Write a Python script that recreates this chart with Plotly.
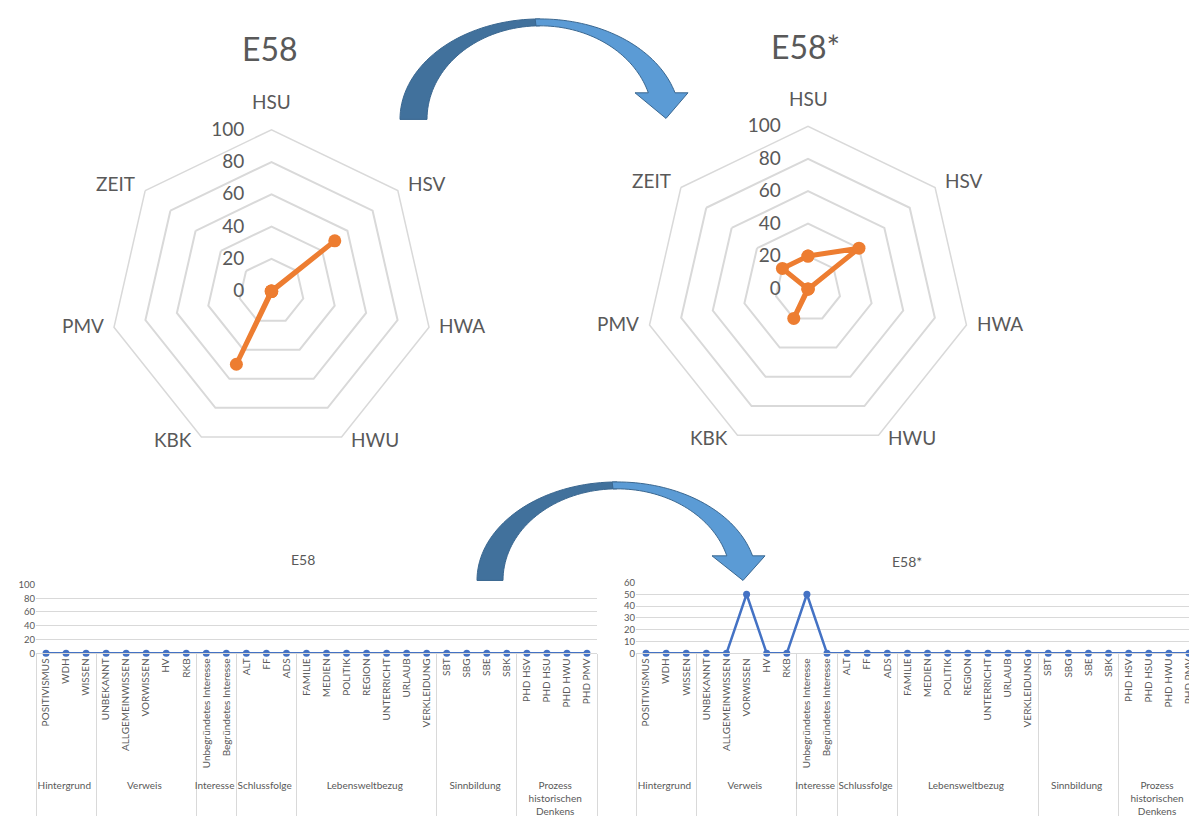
import math

import plotly.graph_objects as go

# the page body keeps its default 8px margin, so the figure starts at (8, 8)
OFF = 8
W, H = 1197 - OFF, 816 - OFF

# radar data
radar_axes = ["HSU", "HSV", "HWA", "HWU", "KBK", "PMV", "ZEIT"]
radar_e58 = [0, 50, 0, 0, 50, 0, 0]
radar_e58_star = [20, 40, 0, 0, 20, 0, 20]
radar_ticks = [0, 20, 40, 60, 80, 100]

# line chart data
group_names = [
    "Hintergrund",
    "Verweis",
    "Interesse",
    "Schlussfolge",
    "Lebensweltbezug",
    "Sinnbildung",
    "Prozess<br>historischen<br>Denkens",
]
group_codes = [
    ["POSITIVISMUS", "WDH", "WISSEN"],
    ["UNBEKANNT", "ALLGEMEINWISSEN", "VORWISSEN", "HV", "RKB"],
    ["Unbegründetes Interesse", "Begründetes Interesse"],
    ["ALT", "FF", "ADS"],
    ["FAMILIE", "MEDIEN", "POLITIK", "REGION", "UNTERRICHT", "URLAUB", "VERKLEIDUNG"],
    ["SBT", "SBG", "SBE", "SBK"],
    ["PHD HSV", "PHD HSU", "PHD HWU", "PHD PMV"],
]
line_e58 = [0, 0, 0, 0, 0, 0, 0, 0, 0, 0, 0, 0, 0, 0,
            0, 0, 0, 0, 0, 0, 0, 0, 0, 0, 0, 0, 0, 0]
line_e58_star = [0, 0, 0, 0, 0, 50, 0, 0, 50, 0, 0, 0, 0, 0,
                 0, 0, 0, 0, 0, 0, 0, 0, 0, 0, 0, 0, 0, 0]

level_group = [g for g, codes in zip(group_names, group_codes) for _ in codes]
level_code = [c for codes in group_codes for c in codes]

TEXT = "#595959"
GRID = "#D9D9D9"
ORANGE = "#ED7D31"
BLUE = "#4472C4"
FONT = "Lato"

# radar placement in window pixels: centre x, centre y, outer radius
RADARS = [(271.5, 289.5, 164), (808, 287, 165)]


def px_x(x):
    return (x - OFF) / W


def px_y(y):
    return 1 - (y - OFF) / H


def arc_points(cx, cy, rx, ry, a0, a1, n=40):
    pts = []
    for i in range(n + 1):
        a = math.radians(a0 + (a1 - a0) * i / n)
        pts.append((cx + rx * math.cos(a), cy - ry * math.sin(a)))
    return pts


def to_path(pts):
    out = []
    for i, (x, y) in enumerate(pts):
        out.append(("M" if i == 0 else "L") + f"{px_x(x):.5f},{px_y(y):.5f}")
    return " ".join(out) + " Z"


def curved_arrow(cx, cy, rxo, ryo, rxi, ryi, head_y, head_l, head_r, tip):
    dy = cy - head_y
    ao = math.degrees(math.asin(dy / ryo))
    ai = math.degrees(math.asin(dy / ryi))
    back = arc_points(cx, cy, rxo, ryo, 180, 90) + arc_points(cx, cy, rxi, ryi, 90, 180)
    front = (
        arc_points(cx, cy, rxo, ryo, 92, ao)
        + [(head_r, head_y), tip, (head_l, head_y)]
        + arc_points(cx, cy, rxi, ryi, ai, 92)
    )
    return [
        dict(type="path", path=to_path(back), xref="paper", yref="paper",
             fillcolor="#41719C", line=dict(color="#3A6790", width=1), layer="above"),
        dict(type="path", path=to_path(front), xref="paper", yref="paper",
             fillcolor="#5B9BD5", line=dict(color="#3A6790", width=1), layer="above"),
    ]


fig = go.Figure()

# cliponaxis must be set: with the polar default (False) the centre points are hidden
for name, vals, polar in [("E58", radar_e58, "polar"), ("E58*", radar_e58_star, "polar2")]:
    fig.add_trace(
        go.Scatterpolar(
            r=vals + vals[:1],
            theta=radar_axes + radar_axes[:1],
            mode="lines+markers",
            line=dict(color=ORANGE, width=5),
            marker=dict(color=ORANGE, size=13),
            cliponaxis=True,
            subplot=polar,
            showlegend=False,
            name=name,
        )
    )

for vals, xa, ya in [(line_e58, "x", "y"), (line_e58_star, "x2", "y2")]:
    fig.add_trace(
        go.Scatter(
            x=[level_group, level_code],
            y=vals,
            mode="lines+markers",
            line=dict(color=BLUE, width=2.5),
            marker=dict(color=BLUE, size=7),
            cliponaxis=False,
            xaxis=xa,
            yaxis=ya,
            showlegend=False,
        )
    )

polar_style = dict(
    gridshape="linear",
    bgcolor="white",
    radialaxis=dict(
        range=[-0.2, 100],
        tickvals=radar_ticks,
        angle=90,
        side="counterclockwise",
        tickangle=90,
        showline=False,
        ticks="outside",
        ticklen=20,
        tickcolor="rgba(0,0,0,0)",
        gridcolor=GRID,
        gridwidth=1.5,
        tickfont=dict(size=19, color=TEXT),
    ),
    angularaxis=dict(
        categoryarray=radar_axes,
        direction="clockwise",
        rotation=90,
        showgrid=False,
        ticks="",
        showticklabels=False,
        showline=True,
        linecolor=GRID,
        linewidth=1.5,
    ),
)


def polar_domain(cx, cy, r):
    return dict(x=[px_x(cx - r), px_x(cx + r)], y=[px_y(cy + r), px_y(cy - r)])


fig.update_layout(
    polar=dict(domain=polar_domain(*RADARS[0]), **polar_style),
    polar2=dict(domain=polar_domain(*RADARS[1]), **polar_style),
)

# category labels of the radar, set beside each corner like the spreadsheet does
for cx, cy, r in RADARS:
    n = len(radar_axes)
    for i, label in enumerate(radar_axes):
        t = 2 * math.pi * i / n
        vx, vy = cx + r * math.sin(t), cy - r * math.cos(t)
        if i == 0:
            xanchor, yanchor, x, y = "center", "bottom", vx, vy - 15
        else:
            side = 1 if math.sin(t) > 0 else -1
            xanchor = "left" if side > 0 else "right"
            yanchor = "middle"
            x, y = vx + 6 * side, vy - 6 * math.cos(t) - 3
        fig.add_annotation(
            text=label, x=px_x(x), y=px_y(y), xref="paper", yref="paper",
            xanchor=xanchor, yanchor=yanchor, showarrow=False,
            font=dict(size=19, color=TEXT, family=FONT),
        )

xstyle = dict(
    type="multicategory",
    tickangle=-90,
    tickfont=dict(size=10, color=TEXT, family=FONT),
    showdividers=True,
    dividercolor=GRID,
    dividerwidth=1,
    showgrid=False,
    showline=True,
    linecolor=GRID,
    ticks="",
    fixedrange=True,
)
ystyle = dict(
    gridcolor=GRID,
    zeroline=False,
    showline=False,
    ticks="",
    tickfont=dict(size=9.5, color=TEXT, family=FONT),
    fixedrange=True,
)

fig.update_layout(
    xaxis=dict(domain=[px_x(36), px_x(597)], anchor="y", range=[-0.5, 27.5], **xstyle),
    yaxis=dict(domain=[px_y(657), px_y(587)], anchor="x", range=[0, 100], dtick=20, **ystyle),
    xaxis2=dict(domain=[px_x(636), 1.0], anchor="y2", range=[-0.5, 27.4], **xstyle),
    yaxis2=dict(domain=[px_y(657), px_y(585)], anchor="x2", range=[0, 60], dtick=10, **ystyle),
)

titles = [
    ("E58", 270, 43, 32),
    ("E58*", 805, 41, 32),
    ("E58", 303, 562, 14),
    ("E58*", 907, 564, 14),
]
for text, x, y, size in titles:
    fig.add_annotation(
        text=text, x=px_x(x), y=px_y(y), xref="paper", yref="paper",
        showarrow=False, font=dict(size=size, color=TEXT, family=FONT),
        xanchor="center", yanchor="middle",
    )

shapes = []
shapes += curved_arrow(540, 115, 140, 102, 113, 95, 88, 635, 688, (666, 114))
shapes += curved_arrow(617, 583, 140, 100, 114, 93, 558, 712, 765, (743, 583))

fig.update_layout(
    shapes=shapes,
    width=W,
    height=H,
    margin=dict(l=0, r=0, t=0, b=0),
    paper_bgcolor="white",
    plot_bgcolor="white",
    font=dict(family=FONT, color=TEXT),
)

fig.write_html("out.html")
